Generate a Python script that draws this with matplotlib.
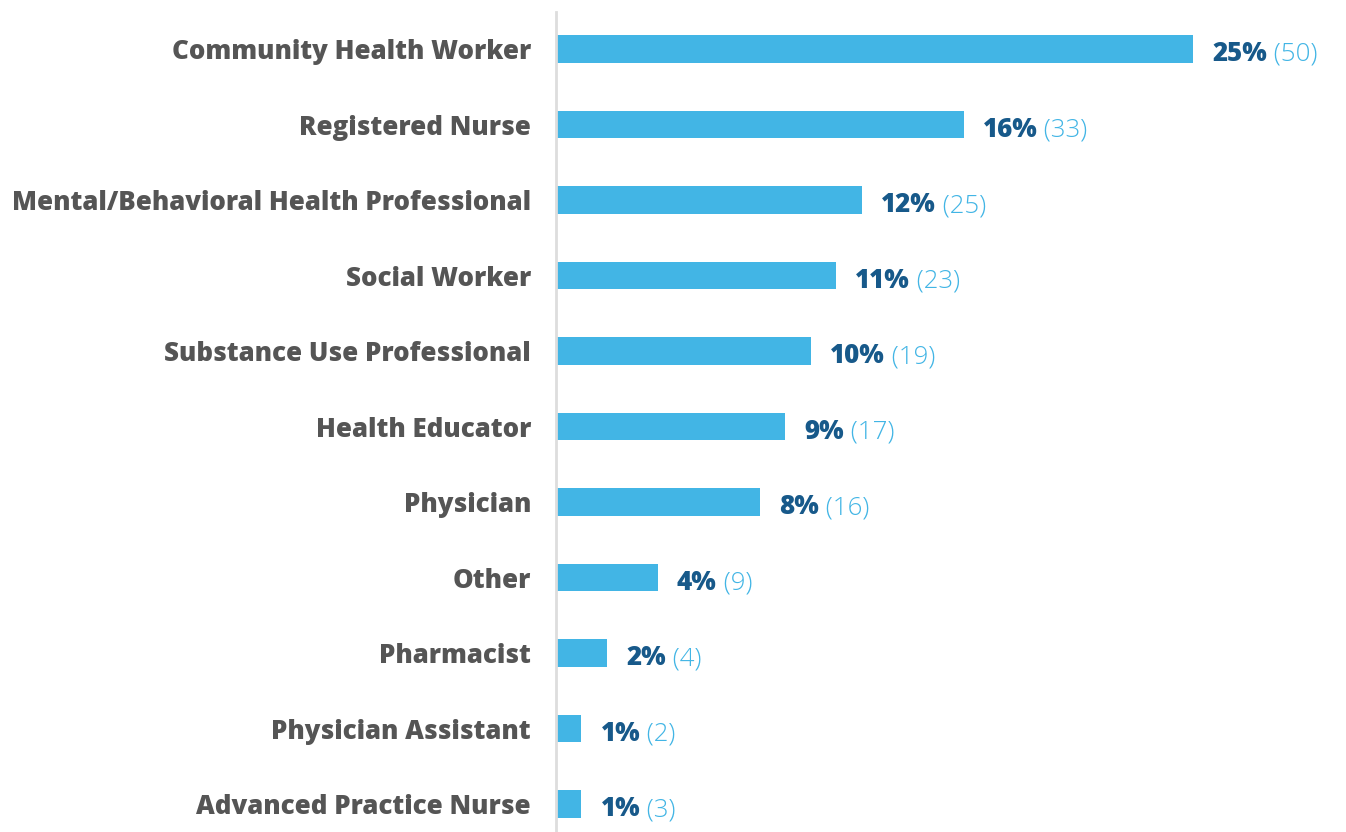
import matplotlib
matplotlib.use("Agg")
import matplotlib.pyplot as plt

# ---------------------------------------------------------------- data
roles = [
    "Community Health Worker",
    "Registered Nurse",
    "Mental/Behavioral Health Professional",
    "Social Worker",
    "Substance Use Professional",
    "Health Educator",
    "Physician",
    "Other",
    "Pharmacist",
    "Physician Assistant",
    "Advanced Practice Nurse",
]
percents = [25, 16, 12, 11, 10, 9, 8, 4, 2, 1, 1]
counts = [50, 33, 25, 23, 19, 17, 16, 9, 4, 2, 3]

BAR = "#42b5e5"
DARK = "#17598a"
GRAY = "#555555"
FONT = "Open Sans"
SIZE = 18.6

# ---------------------------------------------------------------- plot
fig = plt.figure(figsize=(13.46, 8.32), dpi=100)
ax = fig.add_axes([556 / 1346, 0.0, 1 - 556 / 1346, 1 - 12 / 832])

y = list(range(len(roles)))
ax.barh(y, percents, height=0.36, color=BAR, zorder=2)

ax.set_xlim(0, 31)
ax.set_ylim(10.37, -0.49)

for side in ("top", "right", "bottom"):
    ax.spines[side].set_visible(False)
ax.spines["left"].set_color("#dddddd")
ax.spines["left"].set_linewidth(2)
ax.set_xticks([])
ax.set_yticks(y)
ax.set_yticklabels(roles, fontfamily=FONT, fontweight="heavy",
                   fontsize=SIZE, color=GRAY)
ax.tick_params(axis="y", length=0, pad=18)

for yi, p, c in zip(y, percents, counts):
    t = ax.annotate(f"{p}%", xy=(p, yi), xytext=(19, -2),
                    textcoords="offset pixels",
                    va="center_baseline", ha="left", fontfamily=FONT,
                    fontweight="heavy", fontsize=SIZE, color=DARK)
    ax.annotate(f" ({c})", xy=(1, 0), xycoords=t, va="bottom", ha="left",
                fontfamily=FONT, fontweight="light", fontsize=SIZE,
                color=BAR)

fig.savefig("out.png", dpi=100)
